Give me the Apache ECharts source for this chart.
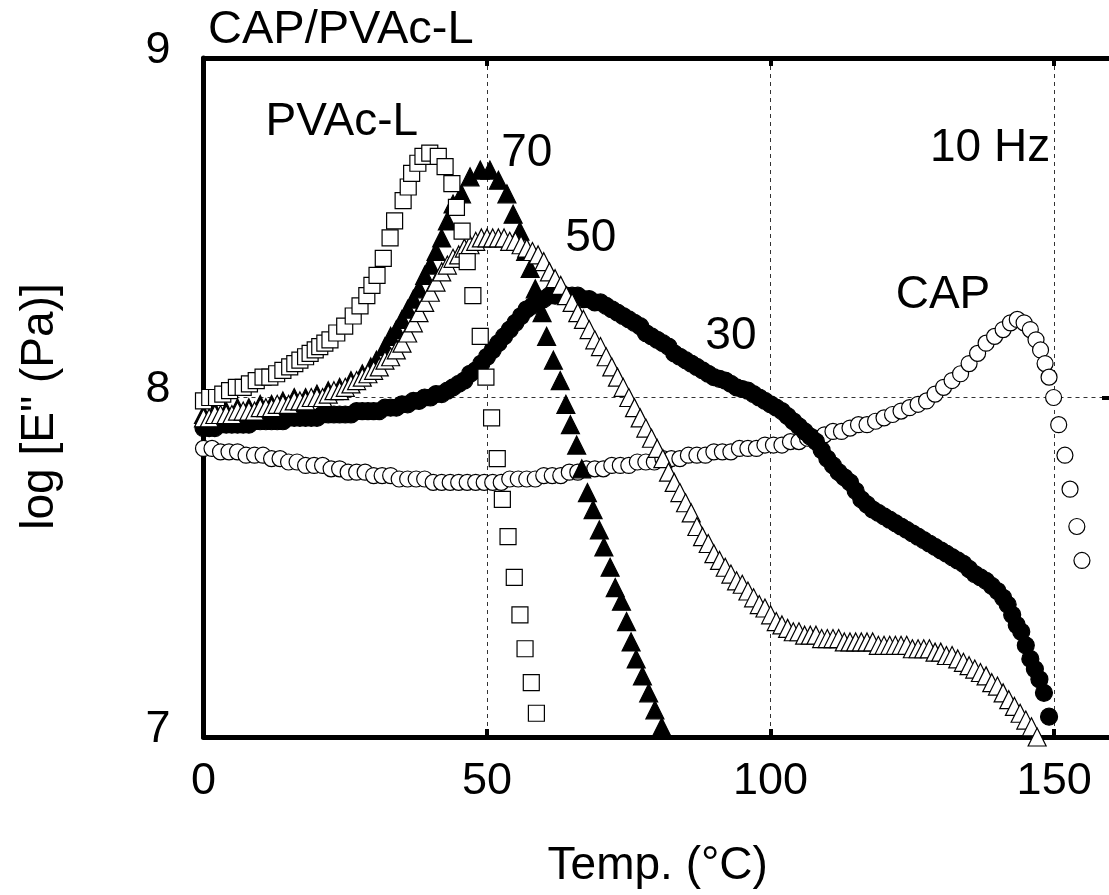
<!DOCTYPE html>
<html><head><meta charset="utf-8">
<script src="https://cdn.jsdelivr.net/npm/echarts@6/dist/echarts.min.js"></script>
<style>html,body{margin:0;padding:0;background:#fff}#c{width:1109px;height:895px}</style>
</head><body><div id="c"></div>
<script>
const FONT = '"Liberation Sans", Arial, Helvetica, sans-serif';
const titleText = 'CAP/PVAc-L';
const xName = 'Temp. (°C)';
const yName = 'log [E" (Pa)]';
const xMin = 0, xMax = 160.2, xStep = 50;
const yMin = 7, yMax = 9, yStep = 1;

// CAP (open circles)
const capData = [[0,7.85],[1.5,7.85],[3,7.84],[4.5,7.84],[6,7.84],[7.5,7.83],[9,7.83],[10.5,7.83],[12,7.82],[13.5,7.82],[15,7.81],[16.5,7.81],[18,7.80],[19.5,7.80],[21,7.80],[22.5,7.79],[24,7.79],[25.5,7.78],[27,7.78],[28.5,7.78],[30,7.77],[31.5,7.77],[33,7.77],[34.5,7.76],[36,7.76],[37.5,7.76],[39,7.76],[40.5,7.75],[42,7.75],[43.5,7.75],[45,7.75],[46.5,7.75],[48,7.75],[49.5,7.75],[51,7.75],[52.5,7.75],[54,7.76],[55.5,7.76],[57,7.76],[58.5,7.76],[60,7.77],[61.5,7.77],[63,7.77],[64.5,7.78],[66,7.78],[67.5,7.79],[69,7.79],[70.5,7.79],[72,7.80],[73.5,7.80],[75,7.80],[76.5,7.81],[78,7.81],[79.5,7.81],[81,7.82],[82.5,7.82],[84,7.82],[85.5,7.83],[87,7.83],[88.5,7.83],[90,7.84],[91.5,7.84],[93,7.84],[94.5,7.85],[96,7.85],[97.5,7.85],[99,7.86],[100.5,7.86],[102,7.86],[103.5,7.87],[105,7.87],[106.5,7.88],[108,7.88],[109.5,7.89],[111,7.90],[112.5,7.90],[114,7.91],[115.5,7.92],[117,7.92],[118.5,7.93],[120,7.94],[121.5,7.95],[123,7.96],[124.5,7.97],[126,7.98],[127.5,7.99],[129,8.01],[130.5,8.03],[132,8.05],[133.5,8.07],[135,8.10],[136.5,8.13],[138,8.16],[139.5,8.18],[141,8.20],[142.3,8.22],[143.5,8.23],[144.7,8.22],[145.8,8.20],[146.8,8.17],[147.6,8.14],[148.4,8.10],[149.1,8.06],[149.9,8.00],[150.8,7.92],[151.9,7.83],[152.8,7.73],[154.0,7.62],[154.9,7.52]];

// 30 (filled circles)
const s30Data = [[0,7.91],[1,7.91],[2,7.91],[3,7.92],[4,7.92],[5,7.92],[6,7.92],[7,7.92],[8,7.92],[9,7.93],[10,7.93],[11,7.93],[12,7.93],[13,7.93],[14,7.93],[15,7.94],[16,7.94],[17,7.94],[18,7.94],[19,7.94],[20,7.94],[21,7.95],[22,7.95],[23,7.95],[24,7.95],[25,7.95],[26,7.95],[27,7.96],[28,7.96],[29,7.96],[30,7.96],[31,7.96],[32,7.97],[33,7.97],[34,7.97],[35,7.98],[36,7.98],[37,7.99],[38,7.99],[39,8.00],[40,8.00],[41,8.01],[42,8.01],[43,8.02],[44,8.03],[45,8.04],[46,8.05],[47,8.07],[48,8.08],[49,8.10],[50,8.12],[51,8.14],[52,8.16],[53,8.18],[54,8.20],[55,8.22],[56,8.24],[57,8.26],[58,8.27],[59,8.28],[60,8.29],[61,8.30],[62,8.30],[63,8.30],[64,8.30],[65,8.30],[66,8.30],[67,8.29],[68,8.29],[69,8.28],[70,8.28],[71,8.27],[72,8.26],[73,8.25],[74,8.24],[75,8.23],[76,8.22],[77,8.21],[78,8.19],[79,8.18],[80,8.17],[81,8.16],[82,8.15],[83,8.13],[84,8.12],[85,8.11],[86,8.10],[87,8.09],[88,8.08],[89,8.07],[90,8.06],[91,8.055],[92,8.05],[93,8.04],[94,8.03],[95,8.025],[96,8.02],[97,8.01],[98,8.00],[99,7.99],[100,7.98],[101,7.97],[102,7.96],[103,7.945],[104,7.93],[105,7.915],[106,7.90],[107,7.885],[108,7.87],[109,7.845],[110,7.82],[111,7.80],[112,7.78],[113,7.765],[114,7.75],[115,7.725],[116,7.70],[117,7.685],[118,7.67],[119,7.66],[120,7.65],[121,7.64],[122,7.63],[123,7.62],[124,7.61],[125,7.60],[126,7.59],[127,7.58],[128,7.57],[129,7.56],[130,7.55],[131,7.54],[132,7.53],[133,7.52],[134,7.51],[135,7.495],[136,7.48],[137,7.47],[138,7.46],[139,7.445],[140,7.43],[141,7.41],[141.8,7.39],[142.6,7.36],[143.4,7.33],[144.2,7.31],[145,7.27],[145.8,7.23],[146.6,7.20],[147.4,7.17],[148.2,7.13],[149.1,7.06]];

// 50 (open triangles)
const s50Data = [[0,7.94],[1,7.94],[2,7.95],[3,7.95],[4,7.95],[5,7.95],[6,7.96],[7,7.96],[8,7.96],[9,7.96],[10,7.97],[11,7.97],[12,7.97],[13,7.98],[14,7.98],[15,7.98],[16,7.99],[17,7.99],[18,7.99],[19,8.00],[20,8.00],[21,8.00],[22,8.01],[23,8.02],[24,8.02],[25,8.03],[26,8.04],[27,8.05],[28,8.06],[29,8.07],[30,8.08],[31,8.09],[32,8.11],[33,8.12],[34,8.14],[35,8.16],[36,8.19],[37,8.22],[38,8.25],[39,8.28],[40,8.31],[41,8.34],[42,8.37],[43,8.39],[44,8.41],[45,8.42],[46,8.44],[47,8.45],[48,8.46],[49,8.47],[50,8.47],[51,8.47],[52,8.47],[53,8.47],[54,8.46],[55,8.46],[56,8.45],[57,8.44],[58,8.43],[59,8.42],[60,8.40],[61,8.37],[62,8.35],[63,8.33],[64,8.30],[65,8.28],[66,8.25],[67,8.23],[68,8.20],[69,8.17],[70,8.15],[71,8.12],[72,8.09],[73,8.06],[74,8.03],[75,8.00],[76,7.97],[77,7.94],[78,7.91],[79,7.88],[80,7.85],[81,7.82],[82,7.78],[83,7.75],[84,7.72],[85,7.69],[86,7.66],[87,7.62],[88,7.59],[89,7.57],[90,7.54],[91,7.52],[92,7.50],[93,7.48],[94,7.46],[95,7.45],[96,7.43],[97,7.41],[98,7.39],[99,7.38],[100,7.36],[101,7.34],[102,7.33],[103,7.32],[104,7.31],[105,7.31],[106,7.30],[107,7.30],[108,7.30],[109,7.29],[110,7.29],[111,7.29],[112,7.29],[113,7.28],[114,7.28],[115,7.28],[116,7.28],[117,7.28],[118,7.28],[119,7.27],[120,7.27],[121,7.27],[122,7.27],[123,7.27],[124,7.27],[125,7.26],[126,7.26],[127,7.26],[128,7.26],[129,7.25],[130,7.25],[131,7.24],[132,7.24],[133,7.23],[134,7.22],[135,7.21],[136,7.20],[137,7.19],[138,7.18],[139,7.16],[140,7.15],[141,7.13],[142,7.11],[143,7.09],[144,7.07],[145,7.05],[146,7.03],[147,7.00]];

// 70 (filled triangles)
const s70Data = [[0,7.95],[2,7.96],[4,7.96],[6,7.97],[8,7.97],[10,7.98],[12,7.98],[14,7.99],[16,8.00],[18,8.00],[20,8.01],[22,8.02],[24,8.03],[26,8.05],[28,8.07],[29.5,8.09],[30.5,8.11],[32,8.15],[33,8.18],[34,8.20],[35,8.23],[36,8.26],[37,8.29],[38,8.32],[39,8.36],[40,8.39],[41,8.43],[42,8.47],[43,8.52],[44,8.57],[45.5,8.60],[47,8.65],[48.8,8.67],[50.5,8.67],[52,8.64],[53.5,8.60],[54.6,8.54],[55.8,8.49],[56.8,8.43],[57.6,8.38],[58.5,8.32],[59.7,8.25],[60.5,8.18],[61.7,8.11],[62.9,8.05],[63.9,7.98],[64.7,7.92],[65.8,7.86],[66.7,7.79],[67.7,7.72],[68.7,7.67],[69.8,7.61],[70.6,7.56],[71.7,7.50],[72.6,7.44],[73.7,7.40],[74.6,7.34],[75.4,7.28],[76.3,7.23],[77.4,7.18],[78.5,7.13],[79.6,7.08],[80.8,7.03]];

// PVAc-L (open squares)
const pvacData = [[0,7.99],[1.1,8.00],[2.3,8.00],[3.4,8.01],[4.6,8.02],[5.8,8.03],[7,8.03],[8.1,8.04],[9.3,8.05],[10.5,8.06],[11.7,8.06],[12.9,8.07],[14,8.08],[15.2,8.09],[16.1,8.10],[17,8.11],[18,8.12],[18.8,8.13],[19.7,8.14],[20.5,8.15],[21.4,8.16],[22.3,8.17],[23.5,8.19],[24.9,8.21],[26.4,8.24],[27.6,8.27],[28.8,8.30],[29.7,8.33],[30.6,8.36],[31.7,8.41],[32.9,8.47],[33.7,8.52],[35.2,8.58],[36.1,8.62],[36.7,8.66],[37.8,8.69],[38.7,8.71],[39.9,8.72],[41.4,8.71],[42.6,8.68],[43.8,8.63],[44.6,8.56],[45.6,8.49],[46.5,8.40],[47.5,8.30],[48.8,8.18],[49.8,8.06],[50.8,7.94],[51.8,7.82],[52.7,7.70],[53.7,7.59],[54.8,7.47],[55.8,7.36],[56.7,7.26],[57.8,7.16],[58.7,7.07]];

// annotations
const annoText = ['PVAc-L', '70', '50', '30', 'CAP', '10 Hz'];
const annoX = [24.4, 57.0, 68.3, 93.0, 130.4, 138.7];
const annoY = [8.81, 8.72, 8.47, 8.18, 8.30, 8.735];

const chart = echarts.init(document.getElementById('c'), null, {renderer: 'canvas'});
const axisLine = {show: true, onZero: false, lineStyle: {color: '#000', width: 5}};
const tick = (len) => ({show: true, inside: true, length: len, lineStyle: {color: '#000', width: 4}});
const split = {show: true, lineStyle: {color: '#333', width: 1, type: [4, 4]}};

function sc(name, data, symbol, size, fill, z) {
  return {
    name, type: 'scatter', data, symbol, symbolSize: size, z,
    itemStyle: {color: fill, borderColor: '#000', borderWidth: 1.2, opacity: 1},
    emphasis: {disabled: true}, clip: false
  };
}

chart.setOption({
  animation: false,
  backgroundColor: '#fff',
  title: {text: titleText, left: 208, top: 7, padding: 0,
    textStyle: {fontFamily: FONT, fontSize: 47, fontWeight: 'normal', color: '#000'}},
  grid: {left: 203.5, top: 58, width: 908.5, height: 679, containLabel: false, outerBoundsMode: 'none'},
  xAxis: [
    {type: 'value', min: xMin, max: xMax, interval: xStep, position: 'bottom',
      name: xName, nameLocation: 'middle', nameGap: 106,
      nameTextStyle: {fontFamily: FONT, fontSize: 46, color: '#000'},
      axisLine, axisTick: tick(8), splitLine: split,
      axisLabel: {show: true, showMaxLabel: false, margin: 22, fontFamily: FONT, fontSize: 45, color: '#000',
        formatter: v => (v % xStep === 0 ? String(v) : '')}},
    {type: 'value', min: xMin, max: xMax, interval: xStep, position: 'top',
      axisLine, axisTick: tick(8), splitLine: {show: false}, axisLabel: {show: false}}
  ],
  yAxis: [
    {type: 'value', min: yMin, max: yMax, interval: yStep, position: 'left',
      name: yName, nameLocation: 'middle', nameGap: 140,
      nameTextStyle: {fontFamily: FONT, fontSize: 46, color: '#000', padding: [0, 18, 0, 0]},
      axisLine, axisTick: tick(8), splitLine: split,
      axisLabel: {show: true, margin: 33, verticalAlign: 'middle',
        formatter: v => '{v|' + v + '}',
        rich: {v: {fontFamily: FONT, fontSize: 45, color: '#000', padding: [0, 0, 15, 0]}}}},
    {type: 'value', min: yMin, max: yMax, interval: yStep, position: 'right',
      axisLine, axisTick: tick(10), splitLine: {show: false}, axisLabel: {show: false}}
  ],
  series: [
    sc('CAP', capData, 'circle', 16, '#fff', 2),
    sc('30', s30Data, 'circle', 17, '#000', 3),
    sc('70', s70Data, 'triangle', 18, '#000', 4),
    sc('50', s50Data, 'triangle', 18, '#fff', 5),
    sc('PVAc-L', pvacData, 'rect', 16, '#fff', 6),
    {
      name: 'labels', type: 'scatter', z: 10, symbolSize: 1, clip: false,
      itemStyle: {color: '#fff', opacity: 0}, emphasis: {disabled: true},
      data: annoText.map((t, i) => ({value: [annoX[i], annoY[i]], name: t})),
      label: {show: true, position: 'inside', formatter: p => p.name, opacity: 1,
        fontFamily: FONT, fontSize: 46, color: '#000', textBorderWidth: 0, textBorderColor: 'transparent'}
    }
  ]
});
</script></body></html>
